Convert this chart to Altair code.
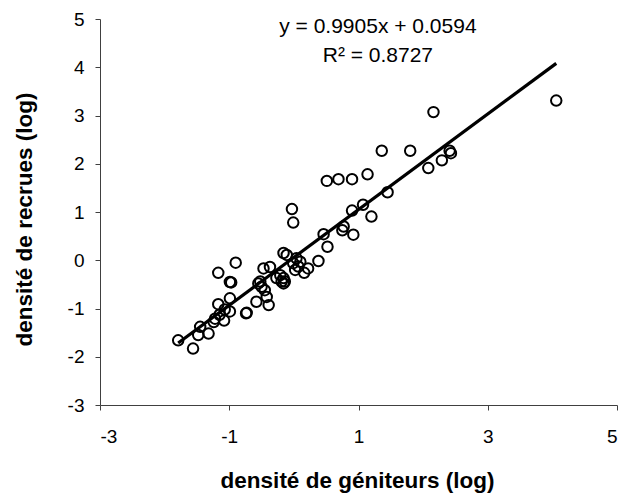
import altair as alt
import pandas as pd

# scatter data (log spawner density, log recruit density)
x_vals = [4.06, 2.16, 2.41, 2.43, 2.29, 2.08, 1.80, 1.36, 1.14, 0.90, 0.69, 0.51,
          1.45, 1.20, 1.07, 0.90, 0.77, 0.75, 0.92, 0.46, 0.52, -0.03, -0.01, 0.38,
          0.22, 0.16, 0.04, 0.10, -0.01, 0.07, 0.02, -0.16, -0.11, -0.21, -0.16,
          -0.19, -0.14, -0.16, -0.27, -0.37, -0.47, -0.52, -0.55, -0.50, -0.45,
          -0.42, -0.39, -0.58, -0.73, -0.74, -0.90, -1.17, -0.99, -0.97, -0.99,
          -1.17, -1.07, -0.99, -1.15, -1.22, -1.24, -1.08, -1.45, -1.48, -1.32,
          -1.79, -1.56]
y_vals = [3.31, 3.07, 2.27, 2.22, 2.07, 1.91, 2.27, 2.27, 1.78, 1.68, 1.68, 1.645,
          1.41, 0.905, 1.15, 1.03, 0.70, 0.62, 0.53, 0.54, 0.28, 1.06, 0.78, -0.015,
          -0.17, -0.26, 0.04, -0.03, -0.06, -0.13, -0.20, 0.15, 0.11, -0.31, -0.37,
          -0.44, -0.44, -0.48, -0.37, -0.14, -0.17, -0.44, -0.48, -0.55, -0.62,
          -0.76, -0.93, -0.86, -1.09, -1.10, -0.05, -0.26, -0.45, -0.46, -0.79,
          -0.91, -1.02, -1.06, -1.13, -1.21, -1.28, -1.25, -1.38, -1.55, -1.52,
          -1.66, -1.83]

slope = 0.9905
intercept = 0.0594
line_x = [-1.79, 4.06]
line_y = [slope * v + intercept for v in line_x]

eq_lines = ["y = 0.9905x + 0.0594", "R² = 0.8727"]
eq_x = [1.30, 1.30]
eq_y = [4.71, 4.10]

tick_x = [-3, -1, 1, 3, 5]
tick_y = [-3, -2, -1, 0, 1, 2, 3, 4, 5]

FONT = "Liberation Sans"
AXC = "#404040"

pts = pd.DataFrame({"x": x_vals, "y": y_vals})
ln = pd.DataFrame({"x": line_x, "y": line_y})
eq = pd.DataFrame({"x": eq_x, "y": eq_y, "t": eq_lines})

xscale = alt.Scale(domain=[-3, 5], nice=False, zero=False)
yscale = alt.Scale(domain=[-3, 5], nice=False, zero=False)

LBL = "toString(datum.value)"

xaxis = alt.Axis(values=tick_x, title="densité de géniteurs (log)", grid=False,
                 labelExpr=LBL,
                 domainColor=AXC, tickColor=AXC, tickSize=5, domainWidth=1,
                 labelFont=FONT, labelFontSize=19, labelColor="black", labelPadding=17,
                 titleFont=FONT, titleFontSize=22.5, titleFontWeight="bold",
                 titleColor="black", titleX=257, titleY=82,
                 titleBaseline="alphabetic", titleAlign="center")
yaxis = alt.Axis(values=tick_y, title="densité de recrues (log)", grid=False,
                 labelExpr=LBL,
                 domainColor=AXC, tickColor=AXC, tickSize=5, domainWidth=1,
                 labelFont=FONT, labelFontSize=19, labelColor="black", labelPadding=11,
                 titleFont=FONT, titleFontSize=22.5, titleFontWeight="bold",
                 titleColor="black", titleX=-69, titleY=200, titleAngle=-90,
                 titleBaseline="alphabetic", titleAlign="center")

points = alt.Chart(pts).mark_point(shape="circle", filled=False, color="black",
                                    strokeWidth=2, size=110, opacity=1).encode(
    x=alt.X("x:Q", scale=xscale, axis=xaxis),
    y=alt.Y("y:Q", scale=yscale, axis=yaxis),
)

line = alt.Chart(ln).mark_line(color="black", strokeWidth=3.2).encode(
    x=alt.X("x:Q", scale=xscale),
    y=alt.Y("y:Q", scale=yscale),
)

text = alt.Chart(eq).mark_text(font=FONT, fontSize=21, color="black",
                               align="center", baseline="alphabetic").encode(
    x=alt.X("x:Q", scale=xscale),
    y=alt.Y("y:Q", scale=yscale),
    text="t:N",
)

chart = alt.layer(line, points, text).properties(
    width=517, height=386,
    autosize=alt.AutoSizeParams(type="none"),
    padding={"left": 100, "top": 19, "right": 6, "bottom": 89},
    background="white",
).configure_view(stroke=None)

chart.save("out.html", embed_options={"renderer": "svg", "actions": False})
